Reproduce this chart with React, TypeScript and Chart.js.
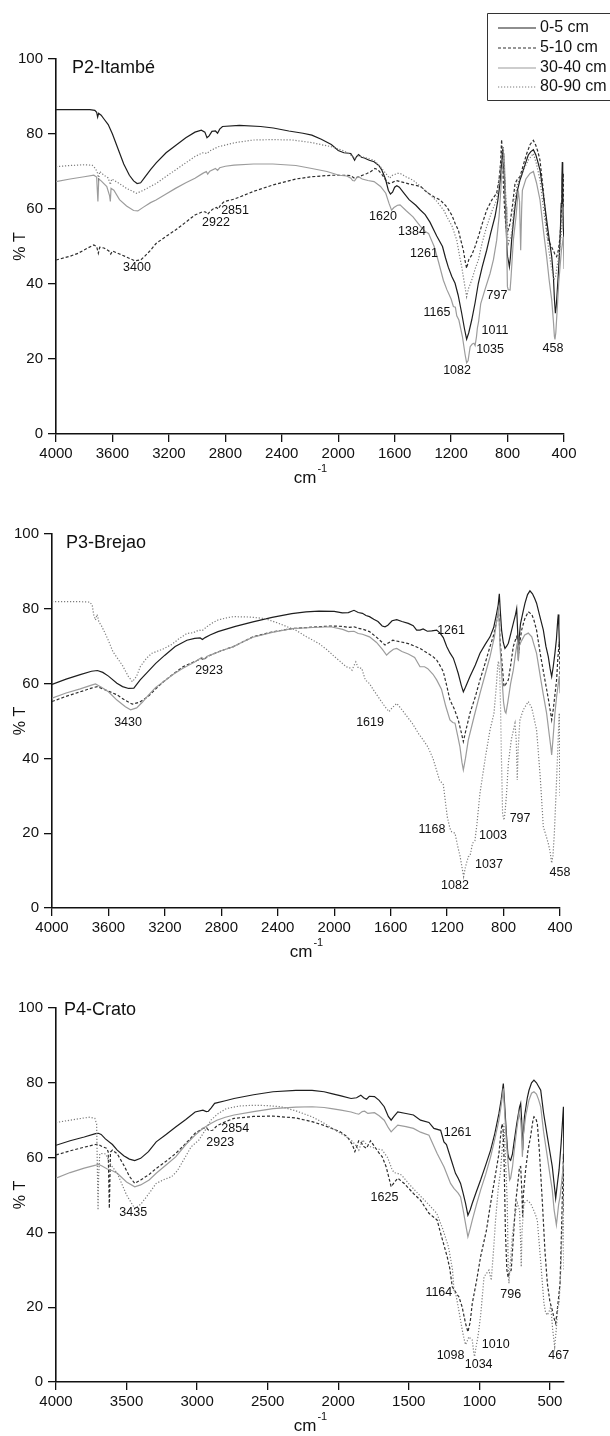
import { useEffect, useRef } from 'react';
import { Chart, registerables } from 'chart.js';

Chart.register(...registerables);

const FONT = '"Liberation Sans", Arial, Helvetica, sans-serif';

const SERIES_LABELS = ['0-5 cm', '5-10 cm', '30-40 cm', '80-90 cm'];
const Y_TICKS = [0, 20, 40, 60, 80, 100];
const X_TICKS_400 = [4000, 3600, 3200, 2800, 2400, 2000, 1600, 1200, 800, 400];
const X_TICKS_500 = [4000, 3500, 3000, 2500, 2000, 1500, 1000, 500];
const X_TITLE = 'cm';
const X_TITLE_SUP = '-1';
const Y_TITLE = '% T';

type Pt = [number, number];
type Peak = [string, number, number];

// ---------------- P2-Itambé ----------------
const P2_0_5: Pt[] = [[4000,86.5],[3760,86.5],[3725,86.3],[3712,85.8],[3705,84.5],[3698,85.5],[3680,85],[3660,84],[3630,82.5],[3600,80],[3560,76],[3520,72],[3480,69],[3450,67.5],[3425,66.8],[3400,67],[3370,68.5],[3330,70.5],[3290,72.3],[3220,75],[3150,77],[3080,79],[3015,80.5],[2970,81],[2945,80.5],[2930,79],[2915,79.5],[2895,80.7],[2870,80.8],[2855,80.2],[2840,81.3],[2820,82],[2700,82.3],[2550,82],[2460,81.6],[2350,80.8],[2250,80.2],[2187,79.7],[2120,78.6],[2049,77.2],[2000,75.6],[1960,75],[1911,74.8],[1895,73.8],[1884,73],[1870,74],[1856,74.5],[1835,73.8],[1815,73.6],[1780,73],[1746,72.6],[1710,71.5],[1691,70.4],[1665,68],[1645,65],[1630,64],[1615,64.5],[1600,65.8],[1585,66.2],[1567,65.8],[1540,64.5],[1498,62.5],[1450,61],[1420,59.8],[1384,58.5],[1350,56.5],[1302,52.8],[1261,50],[1240,47],[1220,44.5],[1195,42],[1172,40.2],[1150,37],[1125,32.2],[1105,28],[1090,25.3],[1075,27],[1054,30.4],[1030,35],[1007,40.2],[980,44.5],[948,49],[920,53.5],[889,58],[870,62],[853,67],[842,72],[834,76],[828,72],[820,67],[812,58],[805,50],[800,47.3],[793,46],[787,44.6],[780,47],[771,51.7],[760,56],[747,60.6],[730,65],[712,67.7],[700,69],[688,70.4],[670,72.5],[653,74.4],[635,75.3],[617,75.8],[600,74.5],[585,72.5],[570,70.4],[550,65],[523,57.1],[505,52],[487,47.3],[475,42],[468,36],[461,32.2],[455,34],[448,38],[440,42.8],[430,50],[425,55],[420,61.5],[415,68],[412,72.5],[409,66],[405,55],[400,51.7]];
const P2_5_10: Pt[] = [[4000,46.4],[3900,47.4],[3843,48.2],[3780,49.5],[3732,50.4],[3712,50],[3700,48.2],[3690,49.8],[3660,49.6],[3625,48.8],[3612,48],[3600,48.8],[3550,48],[3500,47.2],[3443,46.2],[3400,46.4],[3374,47.3],[3330,49],[3291,50.8],[3220,52.7],[3153,54.4],[3080,56.5],[3015,58.4],[2960,59.3],[2940,59.2],[2925,58.6],[2905,59.5],[2880,60.2],[2863,60.4],[2850,60],[2835,61],[2808,62],[2739,62.6],[2600,64.7],[2463,66.4],[2300,68],[2187,68.6],[2049,69],[1960,69],[1911,68.9],[1884,68.2],[1856,68.6],[1800,69.4],[1773,69.9],[1740,70.8],[1720,70.5],[1690,69.2],[1660,67.5],[1640,66.8],[1620,67],[1590,67.6],[1562,67.3],[1500,66.7],[1415,66],[1373,64.5],[1320,63.2],[1277,62.4],[1231,60.6],[1194,58.3],[1170,56],[1149,54.4],[1130,51.5],[1113,49],[1100,46],[1090,44.2],[1075,46.5],[1054,47.7],[1030,50],[1007,52.6],[980,56],[948,59.7],[910,62.5],[877,64.2],[860,68],[850,72],[842,78.5],[836,74],[828,65],[818,58],[806,53.5],[795,54.5],[782,56.2],[765,61],[747,66.8],[730,68],[712,68.6],[690,71.5],[664,74.8],[640,77.2],[617,78.3],[600,77],[585,75.3],[570,73],[550,66],[530,58],[511,51.7],[490,50],[476,49],[465,48],[452,47.3],[440,49],[428,52.6],[418,60],[410,67],[405,69.5],[402,62],[400,60]];
const P2_30_40: Pt[] = [[4000,67.3],[3900,68],[3800,68.6],[3732,69],[3712,68.5],[3703,62],[3697,68],[3680,67.5],[3640,66],[3620,63.5],[3615,62],[3610,65.5],[3590,65],[3550,62.5],[3500,60.8],[3450,59.6],[3420,59.5],[3380,60.5],[3330,61.7],[3291,62.4],[3220,64],[3153,65.5],[3080,67],[3015,68.2],[2960,69.5],[2935,70],[2925,69.3],[2910,70.1],[2870,70.8],[2855,70.3],[2840,71],[2800,71.4],[2739,71.7],[2600,72],[2463,72],[2300,71.6],[2187,70.8],[2080,70],[1994,69],[1940,68.8],[1910,68.2],[1898,67.6],[1884,67.5],[1870,68.3],[1856,68.6],[1830,68],[1790,67.6],[1746,67.3],[1700,66],[1663,64.2],[1640,61.5],[1622,59.7],[1605,60.4],[1580,61],[1562,61.1],[1520,59.6],[1470,57.9],[1420,55.5],[1384,54],[1360,53.5],[1320,50],[1290,46],[1255,41],[1230,38.5],[1200,36],[1184,34],[1170,33.8],[1160,31.5],[1145,30.4],[1120,26],[1100,21],[1090,19],[1080,19.5],[1065,23.3],[1050,24],[1038,24.2],[1030,23.6],[1020,26],[1014,28.2],[1005,30],[990,34.8],[960,38.5],[924,42.8],[900,46.5],[877,51.7],[860,58],[848,65],[842,69.5],[825,74.8],[818,68],[811,60.6],[805,48],[801,39.3],[795,38.5],[782,38.4],[775,42],[759,51.7],[740,58],[724,65],[715,62],[707,49],[700,60],[695,65],[670,68],[641,69.5],[617,70],[595,67],[570,62.4],[545,54],[523,47.3],[505,41],[487,35.7],[475,30],[468,26],[464,25.2],[458,27],[447,34],[438,40],[428,44.6],[418,49],[405,52.6],[400,44]];
const P2_80_90: Pt[] = [[4000,71.3],[3900,71.6],[3800,71.8],[3745,71.7],[3720,70.8],[3705,69.5],[3698,68],[3690,70],[3660,69],[3630,68.3],[3615,66.5],[3605,68],[3560,67],[3500,65.5],[3429,64.2],[3380,65],[3291,66.8],[3200,69.2],[3100,71.8],[3015,74],[2960,75],[2930,74.8],[2910,75.5],[2850,76.6],[2730,77.7],[2601,78.4],[2460,78.5],[2325,78.4],[2187,77.7],[2049,76.6],[1960,75.5],[1911,74.4],[1884,73.5],[1856,74.2],[1800,73.6],[1746,73],[1700,71.2],[1663,69.5],[1636,68.2],[1615,69],[1580,69.5],[1562,69.5],[1520,68.6],[1470,67.7],[1410,65.8],[1360,64.2],[1300,62],[1249,59.5],[1231,58],[1194,55.5],[1160,51.7],[1140,47.5],[1125,44.6],[1105,40],[1090,36.6],[1075,39],[1054,41],[1030,44],[1007,46.4],[980,51],[948,55.3],[910,59.5],[877,62.4],[860,68],[842,74],[830,76.6],[822,70],[812,62.4],[800,54],[794,50.8],[782,52],[771,53.5],[755,60],[735,66],[712,68.5],[688,70.4],[650,73.2],[617,74.8],[595,72],[570,67.7],[545,60],[511,50],[490,44.5],[471,41],[460,42],[448,45],[433,48.2],[418,54],[405,60.6],[400,58]];
const P2_PEAKS: Peak[] = [['3400',3426,44.3],['2922',2866,56.5],['2851',2731,59.5],['1620',1683,57.9],['1384',1477,53.9],['1261',1392,48],['1165',1300,32.3],['1082',1158,17],['1035',924,22.4],['1011',889,27.7],['797',875,37],['458',478,22.9]];

// ---------------- P3-Brejao ----------------
const P3_0_5: Pt[] = [[4000,59.8],[3900,61.2],[3800,62.4],[3720,63.3],[3678,63.5],[3640,63],[3600,62],[3540,60.1],[3500,59.2],[3457,58.7],[3420,58.8],[3375,61],[3320,63.2],[3265,65.4],[3200,67.6],[3127,69.9],[3044,71.6],[2989,72.1],[2950,72.2],[2934,71.8],[2915,72.3],[2880,73],[2824,73.9],[2700,75.3],[2576,76.5],[2440,77.7],[2301,78.7],[2200,79.2],[2108,79.4],[2000,79.3],[1943,78.9],[1900,79],[1860,79.6],[1830,79],[1800,78.8],[1775,78.2],[1750,77.9],[1720,77.2],[1690,76.6],[1660,75.4],[1640,75.2],[1620,75.6],[1590,76.8],[1557,77.1],[1520,76.6],[1475,76.1],[1440,75.5],[1416,74.3],[1392,74.3],[1370,74.6],[1340,74],[1309,74.1],[1274,74.3],[1250,73.5],[1227,72.3],[1203,69.9],[1180,68.2],[1156,66.8],[1140,65],[1121,62.7],[1100,59.6],[1085,57.8],[1070,59],[1038,61.9],[1000,65],[967,68.1],[930,70.5],[896,72.5],[870,75],[849,78.8],[838,81],[830,84],[824,80],[814,74.3],[802,71],[790,69.4],[778,70],[766,70.8],[748,73.5],[731,76.1],[715,78.5],[707,80],[700,74],[695,66.3],[690,72],[680,76],[660,79.5],[648,81.5],[630,83.8],[613,84.8],[595,84],[580,82.8],[566,81.5],[545,78.3],[518,74.3],[500,70],[483,67.2],[470,64],[459,61.9],[448,64.5],[436,68.1],[425,72],[416,77],[412,78.5],[408,75],[404,70],[400,69]];
const P3_5_10: Pt[] = [[4000,55.2],[3900,56.6],[3800,57.8],[3720,58.8],[3678,59.2],[3640,58.6],[3600,58],[3540,57],[3480,55.5],[3430,54.5],[3380,55],[3320,56.5],[3265,58.6],[3210,60.5],[3140,62.6],[3072,64.5],[2989,65.9],[2940,66.7],[2923,66.4],[2900,67.2],[2879,67.6],[2800,68.8],[2714,69.9],[2640,71.3],[2576,72.5],[2440,73.8],[2301,74.7],[2150,75.1],[2025,75.4],[1940,75.3],[1900,75],[1860,75.2],[1830,74.8],[1800,74.6],[1750,73.9],[1700,72.4],[1660,71],[1640,70.3],[1620,70.8],[1585,71.6],[1534,71.2],[1475,70.7],[1430,70],[1392,69.4],[1337,68.1],[1300,67.2],[1274,66.3],[1250,64.8],[1227,63.2],[1200,59],[1180,55.6],[1150,53.3],[1121,50.3],[1100,47],[1085,44.5],[1070,47],[1038,52.1],[1000,56.5],[967,61],[930,65.5],[896,69.9],[870,73],[850,76.5],[837,79.5],[830,77],[825,71.7],[812,66],[797,59.2],[785,59.8],[766,61],[748,65.3],[731,69.9],[715,71.8],[707,72.5],[700,71],[693,68.1],[685,71],[672,74.3],[650,77.3],[625,79.2],[600,78.5],[585,77],[566,74.3],[540,68],[507,61],[483,56],[470,53],[459,50.3],[448,53],[436,57],[424,61],[415,67],[405,71.2],[402,66],[400,62]];
const P3_30_40: Pt[] = [[4000,56.1],[3900,57.5],[3800,58.6],[3720,59.6],[3692,59.9],[3650,59],[3600,57.8],[3540,55.6],[3480,53.8],[3443,53],[3400,53.5],[3360,55],[3320,56.8],[3265,59],[3210,60.5],[3140,62.5],[3072,64.1],[2989,65.8],[2940,67],[2923,66.5],[2900,67.3],[2879,67.6],[2800,68.8],[2714,69.9],[2640,71.3],[2576,72.4],[2440,73.7],[2301,74.7],[2150,75],[2025,75.2],[1940,74.5],[1900,73.9],[1860,74],[1830,73.4],[1800,73.2],[1750,72.5],[1700,71],[1660,69.2],[1629,67.6],[1610,68.3],[1580,69.2],[1557,69.4],[1520,68.6],[1475,67.9],[1430,67],[1392,64.5],[1360,64.5],[1337,64],[1300,62.5],[1274,61],[1240,58.5],[1210,54],[1180,50.3],[1160,49.6],[1144,49.4],[1125,46],[1109,43.1],[1095,39],[1085,36.9],[1070,40],[1050,44.9],[1010,51],[967,57.4],[930,62.5],[896,67.2],[865,72.5],[848,77],[837,79.7],[830,76],[825,69.9],[812,62],[800,55],[790,52.5],[783,52.1],[770,55],[750,60],[731,63.6],[715,68],[705,70.5],[698,71.5],[695,66],[690,70],[672,71.5],[650,73],[625,73.5],[600,72.5],[585,70.5],[566,68.1],[540,62],[518,57],[495,52.1],[475,46],[465,43],[459,40.9],[450,45],[436,52],[424,56.5],[412,60],[405,62],[400,57.4]];
const P3_80_90: Pt[] = [[4000,81.9],[3900,81.9],[3800,81.9],[3733,81.8],[3715,81],[3705,78.5],[3692,77],[3680,78.5],[3668,76.5],[3650,75.5],[3623,73.4],[3600,71.5],[3568,68.5],[3540,67],[3500,64.8],[3460,62],[3430,60.5],[3400,62],[3375,64.5],[3330,66.8],[3292,68.1],[3210,69.3],[3150,70.5],[3100,72],[3044,73.4],[3000,73.6],[2960,74.3],[2934,74.2],[2900,75.3],[2860,76.3],[2824,77],[2760,77.6],[2714,77.9],[2600,77.8],[2493,77.4],[2400,76.2],[2273,74.3],[2200,72.6],[2108,70.7],[2050,69],[1998,67.2],[1960,66],[1915,64.5],[1890,64.2],[1874,63.6],[1860,64.8],[1847,65.8],[1830,64.2],[1805,64.1],[1780,61],[1750,60],[1722,58.3],[1680,56],[1640,53.8],[1612,52.5],[1590,53.5],[1557,54.7],[1520,53],[1480,51],[1447,49.4],[1400,46.5],[1369,44.9],[1337,43.1],[1300,40],[1254,34.2],[1227,33],[1199,24.4],[1180,21.3],[1168,20.4],[1144,20],[1125,16.5],[1109,14],[1095,11],[1083,8.4],[1070,11],[1050,13.7],[1037,14],[1020,17.3],[1003,18],[990,22],[967,30.7],[930,40],[896,47.6],[868,52],[850,60],[840,65.5],[835,66],[828,63],[822,55],[815,40],[807,25.3],[797,23.5],[790,25.3],[780,30],[766,38.7],[745,45],[719,49.4],[710,45],[703,34.2],[697,42],[684,50.3],[660,53],[625,55.2],[600,53.5],[566,47.6],[540,35],[518,21.7],[500,19.5],[483,17.3],[470,15],[459,12],[450,14],[440,20],[429,29.8],[418,40],[410,48],[405,52.1],[403,40],[400,30]];
const P3_PEAKS: Peak[] = [['3430',3461,49.7],['2923',2887,63.6],['1619',1746,49.5],['1261',1172,74.1],['1168',1307,21.1],['1003',875,19.3],['797',683,23.8],['1037',903,11.5],['1082',1144,5.9],['458',400,9.4]];

// ---------------- P4-Crato ----------------
const P4_0_5: Pt[] = [[4000,63.3],[3900,64.5],[3800,65.5],[3720,66.4],[3700,66.5],[3680,66.2],[3650,65],[3600,63.5],[3566,62],[3520,60.5],[3480,59.6],[3442,59.2],[3400,59.8],[3345,61.6],[3290,64.2],[3220,66.2],[3152,68.2],[3080,70.2],[3014,72.2],[2959,72.7],[2935,72.3],[2920,72.4],[2900,73.3],[2876,74.5],[2800,75.2],[2738,75.8],[2600,76.8],[2462,77.6],[2300,78],[2185,78],[2100,77.6],[2047,77.1],[1980,76.5],[1909,75.8],[1870,76],[1840,76.7],[1820,76],[1799,75.6],[1780,76.4],[1743,76.3],[1710,75.3],[1674,73.6],[1645,71],[1625,70],[1605,71],[1578,72.2],[1520,71.8],[1467,71.4],[1417,70],[1357,69.4],[1322,67.8],[1274,67.3],[1251,64.2],[1233,63.5],[1200,59.5],[1169,55.8],[1150,54.5],[1133,53.1],[1115,50.5],[1098,47.8],[1081,44.6],[1065,46],[1050,47.8],[1020,51],[991,54],[955,58],[920,62],[890,66.5],[861,71.8],[845,75.5],[830,79.8],[822,75],[807,65.6],[798,61],[790,59.8],[778,59.3],[765,61],[755,63.8],[735,69],[715,73.5],[707,74.5],[700,70],[693,62],[688,66],[680,71],[660,76],[648,78],[630,80],[613,80.7],[595,80],[580,79],[565,78],[545,72],[518,65.6],[500,61.5],[483,57.6],[470,53],[459,49.1],[447,53],[435,56.7],[420,64],[410,70],[404,73.6],[402,65],[400,57]];
const P4_5_10: Pt[] = [[4000,60.7],[3900,61.8],[3800,62.8],[3720,63.5],[3704,63.6],[3671,62.9],[3640,62.5],[3630,61.5],[3622,46.4],[3614,61.5],[3600,62],[3566,61],[3520,58],[3480,55],[3442,53.1],[3400,54],[3340,55.5],[3290,57.1],[3220,59],[3152,61.1],[3080,63.8],[3014,66.5],[2960,67.8],[2931,67.8],[2915,67.2],[2890,67.3],[2860,68.5],[2800,69.6],[2738,70.5],[2600,71],[2462,71.1],[2300,70.6],[2185,69.6],[2100,68.6],[2047,67.8],[1990,67],[1937,65.6],[1900,63.5],[1882,61.6],[1870,62.8],[1855,64.5],[1840,64.2],[1820,63],[1800,62.5],[1771,64.5],[1740,62.8],[1710,61.2],[1688,60.2],[1660,57.5],[1640,54.5],[1625,52.2],[1600,53.5],[1578,54.5],[1530,53],[1467,50.4],[1417,48.6],[1357,45.1],[1299,43.3],[1274,39.7],[1250,36.5],[1228,33.5],[1210,30.5],[1192,25.5],[1177,24.6],[1160,23.5],[1145,22.8],[1122,20.1],[1098,15.7],[1081,13.4],[1065,16],[1050,21],[1020,27],[991,33.5],[950,40.5],[920,47.8],[890,54.5],[861,61.1],[850,65.5],[840,69],[832,68],[825,60],[815,40],[805,30],[796,28],[790,29],[774,29.9],[760,38],[743,47.8],[725,54],[715,57.5],[707,57.6],[700,52],[693,44.2],[688,50],[672,56.7],[655,62],[637,65.6],[620,70],[613,70.9],[600,70.5],[589,69.1],[575,62],[553,47.8],[535,35],[518,26.4],[500,21.5],[483,19.2],[470,17],[459,15.7],[450,18.5],[440,22],[428,26.4],[418,40],[410,52],[404,61],[402,50],[400,45]];
const P4_30_40: Pt[] = [[4000,54.5],[3900,56],[3800,57.2],[3718,58],[3700,58.2],[3677,57.8],[3640,57],[3600,56.5],[3566,55.8],[3500,53.5],[3442,52.2],[3400,52.7],[3340,54],[3290,55.8],[3220,58],[3152,60.2],[3080,63.5],[3014,66],[2960,67.8],[2903,69.1],[2860,70],[2800,70.8],[2738,71.4],[2600,72.3],[2462,73.1],[2300,73.5],[2185,73.6],[2100,73.4],[2047,73.1],[1980,72.7],[1909,72.2],[1875,71.8],[1854,71.6],[1830,72.3],[1813,72.4],[1790,71.8],[1743,72],[1710,71.2],[1674,70],[1645,68],[1625,66.9],[1605,67.7],[1578,68.7],[1520,68.3],[1467,67.8],[1417,66.8],[1357,66],[1299,61.1],[1250,57.5],[1204,53.1],[1180,51.8],[1169,51.3],[1150,50.5],[1133,49.5],[1115,46],[1098,42.4],[1081,38.8],[1065,41],[1050,43.3],[1020,47.5],[991,51.3],[955,55.5],[920,60.2],[890,65],[861,70],[845,74],[830,78.5],[822,73],[807,63.8],[795,58],[785,54],[778,54.5],[765,57.5],[755,61.1],[735,67.5],[719,71.8],[707,70],[700,66],[695,60.2],[688,66],[672,71],[648,75.4],[630,77.2],[613,77.6],[595,77],[580,75.5],[565,73.6],[545,67],[518,60.2],[500,55.5],[483,51.3],[470,46],[454,42],[445,45],[438,47.5],[428,49.5],[418,53],[410,56],[405,58.4],[400,58]];
const P4_80_90: Pt[] = [[4000,69.4],[3900,70],[3800,70.6],[3760,70.8],[3725,70.5],[3712,69],[3706,55],[3702,46],[3698,55],[3690,61],[3682,61.1],[3649,61],[3610,58],[3566,55.8],[3500,50],[3442,46.4],[3400,47.5],[3359,49.5],[3320,51.5],[3290,53.1],[3230,54.2],[3180,54.9],[3140,56.5],[3097,59.3],[3042,62.9],[2987,64.7],[2940,67.5],[2903,70],[2850,71.8],[2793,73.1],[2700,73.8],[2600,74],[2500,73.9],[2406,73.6],[2300,72.5],[2185,70.9],[2100,69.2],[2020,67.3],[1960,66],[1909,64.7],[1880,63.5],[1854,62],[1840,63.5],[1826,64.7],[1800,63.5],[1771,62.9],[1740,62.5],[1688,62],[1650,60],[1620,57],[1605,56],[1580,55.8],[1550,55.3],[1500,53],[1450,51],[1412,49.5],[1360,47.5],[1302,45.1],[1260,41],[1219,36.2],[1190,30],[1180,24.6],[1164,23],[1140,18],[1121,13.9],[1108,11.5],[1098,10],[1085,11],[1074,12.1],[1060,11.5],[1050,11.2],[1040,8],[1034,6.8],[1025,9],[1010,12.1],[990,18],[967,28.1],[950,29],[932,29.9],[915,27.2],[900,35],[885,43.3],[865,52],[849,56.7],[835,64],[826,69.1],[815,60],[802,47.8],[795,30],[790,26.4],[780,32],[767,38.8],[750,44],[731,47.8],[715,46],[708,38],[703,30.8],[698,40],[684,47.8],[660,48.5],[637,47.8],[610,45.5],[589,43.3],[565,32],[542,21],[530,18.5],[518,17.9],[505,19],[494,20.1],[480,14],[466,9.4],[455,14],[444,20],[435,21],[420,32],[410,42],[404,49.5],[400,30]];
const P4_PEAKS: Peak[] = [['2854',2730,67.9],['2923',2836,63.9],['1261',1154,66.6],['3435',3453,45.2],['1625',1672,49.2],['1164',1287,24],['796',778,23.3],['1010',884,9.9],['1098',1204,7.2],['1034',1005,4.8],['467',437,7.2]];

const STYLES = [
  { color: '#1e1e1e', dash: [] as number[], width: 1.2 },
  { color: '#2e2e2e', dash: [3, 2], width: 1.2 },
  { color: '#9c9c9c', dash: [] as number[], width: 1.2 },
  { color: '#7c7c7c', dash: [1.2, 1.8], width: 1.2 },
];

const W = 610;

interface Panel {
  title: string;
  series: Pt[][];
  peaks: Peak[];
  xTicks: number[];
  h: number;
  left: number;
  right: number;
  top: number;
  bottom: number;
  titleDx: number;
  titleDy: number;
  legend: boolean;
}

const PANELS: Panel[] = [
  { title: 'P2-Itambé', series: [P2_0_5, P2_5_10, P2_30_40, P2_80_90], peaks: P2_PEAKS, xTicks: X_TICKS_400, h: 490, left: 56, right: 564, top: 59, bottom: 434, titleDx: 16, titleDy: 9, legend: true },
  { title: 'P3-Brejao', series: [P3_0_5, P3_5_10, P3_30_40, P3_80_90], peaks: P3_PEAKS, xTicks: X_TICKS_400, h: 470, left: 52, right: 560, top: 44, bottom: 418, titleDx: 14, titleDy: 9, legend: false },
  { title: 'P4-Crato', series: [P4_0_5, P4_5_10, P4_30_40, P4_80_90], peaks: P4_PEAKS, xTicks: X_TICKS_500, h: 476, left: 56, right: 564, top: 48, bottom: 422, titleDx: 8, titleDy: 2, legend: false },
];

function decorPlugin(p: Panel) {
  return {
    id: 'decor',
    afterDraw(chart: any) {
      const { ctx, chartArea, scales } = chart;
      const xs = scales.x;
      const ys = scales.y;
      ctx.save();
      ctx.fillStyle = '#111';
      ctx.textBaseline = 'middle';
      ctx.font = `18px ${FONT}`;
      ctx.textAlign = 'left';
      ctx.fillText(p.title, chartArea.left + p.titleDx, chartArea.top + p.titleDy);
      ctx.font = `12.5px ${FONT}`;
      ctx.textAlign = 'center';
      for (const [t, w, v] of p.peaks) {
        ctx.fillText(t, xs.getPixelForValue(w), ys.getPixelForValue(v));
      }
      ctx.textAlign = 'left';
      ctx.font = `17px ${FONT}`;
      const wMain = ctx.measureText(X_TITLE).width;
      ctx.font = `11px ${FONT}`;
      const wSup = ctx.measureText(X_TITLE_SUP).width;
      const cx = (chartArea.left + chartArea.right) / 2;
      const x0 = cx - (wMain + wSup) / 2;
      const ty = chartArea.bottom + 44;
      ctx.font = `17px ${FONT}`;
      ctx.fillText(X_TITLE, x0, ty);
      ctx.font = `11px ${FONT}`;
      ctx.fillText(X_TITLE_SUP, x0 + wMain + 1, ty - 9);
      if (p.legend) {
        const bx = 487, by = 13, bb = 100;
        ctx.strokeStyle = '#333';
        ctx.lineWidth = 1;
        ctx.setLineDash([]);
        ctx.beginPath();
        ctx.moveTo(W, by + 0.5);
        ctx.lineTo(bx + 0.5, by + 0.5);
        ctx.lineTo(bx + 0.5, bb + 0.5);
        ctx.lineTo(W, bb + 0.5);
        ctx.stroke();
        const rows = [28, 48, 68, 87];
        SERIES_LABELS.forEach((lab, i) => {
          const st = STYLES[i];
          ctx.strokeStyle = st.color;
          ctx.lineWidth = st.width;
          ctx.setLineDash(st.dash);
          ctx.beginPath();
          ctx.moveTo(498, rows[i]);
          ctx.lineTo(536, rows[i]);
          ctx.stroke();
          ctx.setLineDash([]);
          ctx.fillStyle = '#111';
          ctx.font = `16px ${FONT}`;
          ctx.textAlign = 'left';
          ctx.fillText(lab, 540, rows[i]);
        });
      }
      ctx.restore();
    },
  };
}

function makeChart(canvas: HTMLCanvasElement, p: Panel) {
  return new Chart(canvas, {
    type: 'line',
    data: {
      datasets: p.series.map((s, i) => ({
        label: SERIES_LABELS[i],
        data: s.map(([x, y]) => ({ x, y })),
        borderColor: STYLES[i].color,
        borderDash: STYLES[i].dash,
        borderWidth: STYLES[i].width,
        pointRadius: 0,
        tension: 0,
        fill: false,
        order: 3 - i,
      })),
    },
    options: {
      animation: false,
      responsive: false,
      maintainAspectRatio: false,
      devicePixelRatio: 1,
      events: [],
      layout: { padding: { left: 0, top: p.top, right: W - p.right, bottom: 0 } },
      plugins: { legend: { display: false }, tooltip: { enabled: false }, title: { display: false } },
      scales: {
        x: {
          type: 'linear',
          reverse: true,
          min: 400,
          max: 4000,
          afterBuildTicks: (s: any) => { s.ticks = p.xTicks.map((v) => ({ value: v })); },
          afterFit: (s: any) => { s.height = p.h - p.bottom; },
          grid: { drawOnChartArea: false, drawTicks: true, tickLength: 8, color: '#111', lineWidth: 1.3 },
          border: { display: true, color: '#111', width: 1.6 },
          ticks: { font: { family: FONT, size: 15 }, color: '#111', padding: 3, maxRotation: 0, autoSkip: false, callback: (v: any) => String(v) },
        },
        y: {
          type: 'linear',
          min: 0,
          max: 100,
          afterBuildTicks: (s: any) => { s.ticks = Y_TICKS.map((v) => ({ value: v })); },
          afterFit: (s: any) => { s.width = p.left; },
          grid: { drawOnChartArea: false, drawTicks: true, tickLength: 8, color: '#111', lineWidth: 1.3 },
          border: { display: true, color: '#111', width: 1.6 },
          ticks: { font: { family: FONT, size: 15 }, color: '#111', padding: 5, autoSkip: false, callback: (v: any) => String(v) },
          title: { display: true, text: Y_TITLE, font: { family: FONT, size: 16 }, color: '#111', padding: { top: 11, bottom: 0 } },
        },
      },
    } as any,
    plugins: [decorPlugin(p)],
  });
}

export default function App() {
  const refs = useRef<(HTMLCanvasElement | null)[]>([]);
  useEffect(() => {
    const charts = PANELS.map((p, i) => makeChart(refs.current[i] as HTMLCanvasElement, p));
    return () => charts.forEach((c) => c.destroy());
  }, []);
  return (
    <div style={{ position: 'absolute', left: 0, top: 0, width: W, height: 1436, background: '#fff' }}>
      {PANELS.map((p, i) => (
        <canvas
          key={p.title}
          ref={(el) => { refs.current[i] = el; }}
          width={W}
          height={p.h}
          style={{ display: 'block', width: W, height: p.h }}
        />
      ))}
    </div>
  );
}
